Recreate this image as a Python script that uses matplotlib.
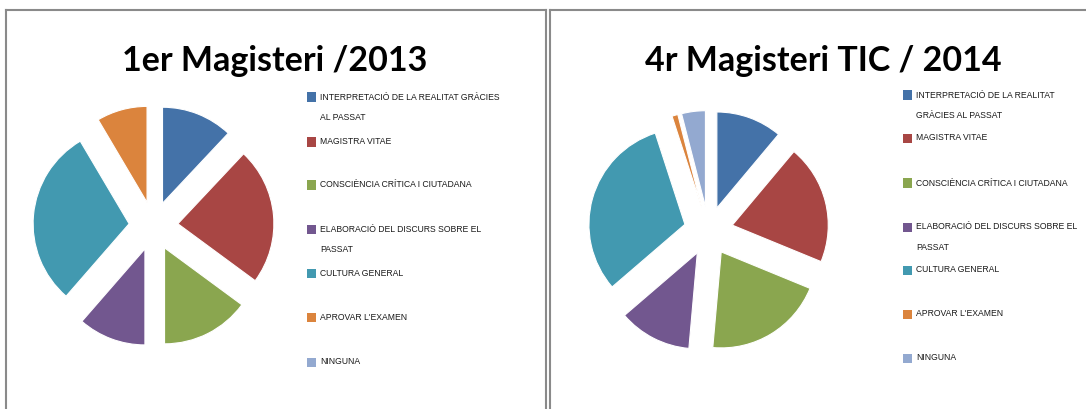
import matplotlib
matplotlib.use("Agg")
import matplotlib.pyplot as plt
from matplotlib.lines import Line2D

# ----------------------------------------------------------------------
# Data (shares, %)
# ----------------------------------------------------------------------
labels_2013 = [
    "INTERPRETACIÓ DE LA REALITAT GRÀCIES\nAL PASSAT",
    "MAGISTRA VITAE",
    "CONSCIÈNCIA CRÍTICA I CIUTADANA",
    "ELABORACIÓ DEL DISCURS SOBRE EL\nPASSAT",
    "CULTURA GENERAL",
    "APROVAR L'EXAMEN",
    "NINGUNA",
]
labels_2014 = [
    "INTERPRETACIÓ DE LA REALITAT\nGRÀCIES AL PASSAT",
    "MAGISTRA VITAE",
    "CONSCIÈNCIA CRÍTICA I CIUTADANA",
    "ELABORACIÓ DEL DISCURS SOBRE EL\nPASSAT",
    "CULTURA GENERAL",
    "APROVAR L'EXAMEN",
    "NINGUNA",
]
values_2013 = [12.0, 23.1, 14.9, 11.4, 30.1, 8.5, 0.0]
values_2014 = [11.1, 20.1, 20.2, 12.3, 31.3, 1.0, 4.0]

titles = ["1er Magisteri /2013", "4r Magisteri TIC / 2014"]

colors = ["#4472A8", "#A84644", "#8AA64F", "#72578F",
          "#4299B0", "#DB843D", "#93A9D0"]

# ----------------------------------------------------------------------
# Layout helpers (pixel positions in a 1086x409 canvas)
# ----------------------------------------------------------------------
W, H = 1086, 409
fig = plt.figure(figsize=(W / 100, H / 100), dpi=100)
fig.patch.set_facecolor("white")


def fx(x):
    return x / W


def fy(y):
    return 1 - y / H


R_PX = 96      # pie radius in pixels
HALF = 135     # half size of pie axes in pixels

panels = [
    dict(cx=153.5, cy=226, title_x=275, leg_x=307, labels=labels_2013,
         values=values_2013,
         leg_y=[97, 142, 185, 229, 273, 317, 362]),
    dict(cx=708.5, cy=231, title_x=823, leg_x=903, labels=labels_2014,
         values=values_2014,
         leg_y=[95, 138, 183, 227, 270, 314, 358]),
]

for p, title in zip(panels, titles):
    ax = fig.add_axes([fx(p["cx"] - HALF), fy(p["cy"] + HALF),
                       2 * HALF / W, 2 * HALF / H])
    ax.pie(p["values"], colors=colors, startangle=90, counterclock=False,
           radius=1, explode=[0.255] * len(p["values"]),
           wedgeprops=dict(edgecolor="white", linewidth=0.8))
    lim = HALF / R_PX
    ax.set_xlim(-lim, lim)
    ax.set_ylim(-lim, lim)
    ax.set_aspect("auto")
    ax.axis("off")

    fig.text(fx(p["title_x"]), fy(71), title, ha="center", va="baseline",
             fontsize=24.5, fontweight="bold", family="Lato", color="black")

    # legend
    for lab, col, y in zip(p["labels"], colors, p["leg_y"]):
        fig.patches.append(plt.Rectangle((fx(p["leg_x"]), fy(y + 4.5)),
                                         9 / W, 9 / H, transform=fig.transFigure,
                                         facecolor=col, edgecolor="none"))
        lines = lab.split("\n")
        for k, line in enumerate(lines):
            fig.text(fx(p["leg_x"] + 13), fy(y + k * 20.5), line,
                     ha="left", va="center", fontsize=6.2,
                     family="Liberation Sans", color="#1a1a1a")

# panel borders
bc = "#8a8a8a"
for xs, ys in [([5.5, 5.5], [H + 5, 10]), ([5.5, 545.5], [10, 10]),
               ([545.5, 545.5], [10, H + 5]),
               ([549.5, 549.5], [H + 5, 10]), ([549.5, W + 5], [10, 10])]:
    fig.add_artist(Line2D([fx(x) for x in xs], [fy(y) for y in ys],
                          transform=fig.transFigure, color=bc, linewidth=1.5))

fig.savefig("out.png", dpi=100, facecolor="white")
